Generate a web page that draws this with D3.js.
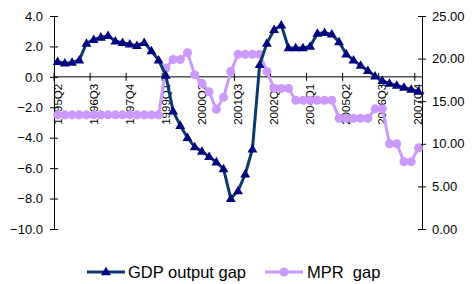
<!DOCTYPE html>
<html>
<head>
<meta charset="utf-8">
<script src="https://cdn.jsdelivr.net/npm/d3@7"></script>
<style>
  body { margin: 0; background: #fff; }
  svg { font-family: "Liberation Sans", Arial, sans-serif; }
  .axis path, .axis line { stroke: #000; }
</style>
</head>
<body>
<div id="chart"></div>
<script>
// quarters on the category axis
const quarters = ["1995Q2","1995Q3","1995Q4",
  "1996Q1","1996Q2","1996Q3","1996Q4","1997Q1","1997Q2","1997Q3","1997Q4",
  "1998Q1","1998Q2","1998Q3","1998Q4","1999Q1","1999Q2","1999Q3","1999Q4",
  "2000Q1","2000Q2","2000Q3","2000Q4","2001Q1","2001Q2","2001Q3","2001Q4",
  "2002Q1","2002Q2","2002Q3","2002Q4","2003Q1","2003Q2","2003Q3","2003Q4",
  "2004Q1","2004Q2","2004Q3","2004Q4","2005Q1","2005Q2","2005Q3","2005Q4",
  "2006Q1","2006Q2","2006Q3","2006Q4","2007Q1","2007Q2","2007Q3","2007Q4"];

// left axis series
const gdpGap = [1.0, 0.9, 0.95, 1.1, 2.2, 2.45, 2.6, 2.7, 2.35, 2.25, 2.15, 2.05, 2.25, 1.7, 1.1,
  0.1, -2.25, -3.2, -4.0, -4.6, -4.9, -5.25, -5.6, -6.05, -8.0, -7.5, -6.4, -4.75,
  0.8, 2.2, 3.1, 3.4, 1.9, 1.9, 1.9, 2.0, 2.85, 2.9, 2.8, 2.3, 1.5, 1.1, 0.75, 0.4,
  0.05, -0.25, -0.43, -0.56, -0.7, -0.82, -0.96];

// right axis series
const mprGap = [13.4, 13.4, 13.4, 13.4, 13.4, 13.4, 13.4, 13.4, 13.4, 13.4, 13.4, 13.4, 13.4, 13.4, 13.4,
  18.9, 19.9, 19.9, 20.7, 18.1, 17.1, 16.1, 14.05, 15.45, 18.5, 20.5, 20.5, 20.5, 20.5,
  18.5, 16.5, 16.5, 16.5, 15.1, 15.1, 15.1, 15.1, 15.1, 15.1, 13.0, 13.0, 13.0, 13.0, 13.0,
  14.1, 14.1, 10.0, 10.0, 7.9, 7.9, 9.5];

const leftTicks = [-10, -8, -6, -4, -2, 0, 2, 4];
const rightTicks = [0, 5, 10, 15, 20, 25];
const labelEvery = 5;

const W = 472, H = 284;
const plot = {left: 54, right: 422, top: 16, bottom: 229};

const svg = d3.select("#chart").append("svg").attr("width", W).attr("height", H);

//Scales
const x = d3.scaleBand().domain(quarters).range([plot.left, plot.right]);
const yL = d3.scaleLinear().domain([-10, 4]).range([plot.bottom, plot.top]);
const yR = d3.scaleLinear().domain([0, 25]).range([plot.bottom, plot.top]);
const cx = d => x(d) + x.bandwidth() / 2;

//Left axis
const leftAxis = d3.axisLeft(yL).tickValues(leftTicks).tickFormat(d3.format(".1f")).tickSizeOuter(0).tickSizeInner(4).tickPadding(7);
const gL = svg.append("g").attr("class", "axis").attr("transform", "translate(" + plot.left + ",0)").call(leftAxis);
gL.selectAll(".tick line").attr("x2", -4).attr("x1", 4);
gL.selectAll("text").style("font-size", "13px").attr("fill", "#000");

//Right axis
const rightAxis = d3.axisRight(yR).tickValues(rightTicks).tickFormat(d3.format(".2f")).tickSizeOuter(0).tickSizeInner(4).tickPadding(6);
const gR = svg.append("g").attr("class", "axis").attr("transform", "translate(" + plot.right + ",0)").call(rightAxis);
gR.selectAll(".tick line").attr("x1", -4).attr("x2", 4);
gR.selectAll("text").style("font-size", "13px").attr("fill", "#000");

//Category axis at zero
const y0 = yL(0);
const gX = svg.append("g").attr("class", "axis");
gX.append("line").attr("x1", plot.left).attr("x2", plot.right).attr("y1", y0).attr("y2", y0).attr("stroke", "#000");
gX.selectAll(".xt").data(quarters.filter((d, i) => i % labelEvery === 0)).enter().append("line")
  .attr("x1", d => x(d)).attr("x2", d => x(d)).attr("y1", y0 - 4).attr("y2", y0 + 4).attr("stroke", "#000");
gX.selectAll(".xl").data(quarters.filter((d, i) => i % labelEvery === 0)).enter().append("text")
  .attr("transform", d => "translate(" + (cx(d) + 4) + "," + (y0 + 7) + ") rotate(-90)")
  .attr("text-anchor", "end").style("font-size", "11.5px").text(d => d);

//MPR line
const lineR = d3.line().x((d, i) => cx(quarters[i])).y(d => yR(d));
svg.append("path").datum(mprGap).attr("d", lineR).attr("fill", "none").attr("stroke", "#cc99ff").attr("stroke-width", 3);
svg.selectAll(".mpr").data(mprGap).enter().append("circle")
  .attr("cx", (d, i) => cx(quarters[i])).attr("cy", d => yR(d)).attr("r", 4.5).attr("fill", "#cc99ff");

//GDP line
const lineL = d3.line().x((d, i) => cx(quarters[i])).y(d => yL(d));
svg.append("path").datum(gdpGap).attr("d", lineL).attr("fill", "none").attr("stroke", "#0a3a6b").attr("stroke-width", 3);
const tri = d3.symbol().type(d3.symbolTriangle).size(42);
svg.selectAll(".gdp").data(gdpGap).enter().append("path")
  .attr("d", tri).attr("fill", "#000080")
  .attr("transform", (d, i) => "translate(" + cx(quarters[i]) + "," + (yL(d) + 0.5) + ")");

//Legend
const ly = 272;
const legend = svg.append("g");
legend.append("line").attr("x1", 87).attr("x2", 125).attr("y1", ly).attr("y2", ly).attr("stroke", "#0a3a6b").attr("stroke-width", 3);
legend.append("path").attr("d", tri).attr("fill", "#000080").attr("transform", "translate(106," + (ly + 0.5) + ")");
legend.append("text").attr("x", 128).attr("y", ly + 6).style("font-size", "16.5px").text("GDP output gap");
legend.append("line").attr("x1", 265).attr("x2", 303).attr("y1", ly).attr("y2", ly).attr("stroke", "#cc99ff").attr("stroke-width", 3);
legend.append("circle").attr("cx", 284).attr("cy", ly).attr("r", 4.5).attr("fill", "#cc99ff");
legend.append("text").attr("x", 307).attr("y", ly + 6).style("font-size", "16.5px").style("white-space", "pre").text("MPR  gap");
</script>
</body>
</html>
